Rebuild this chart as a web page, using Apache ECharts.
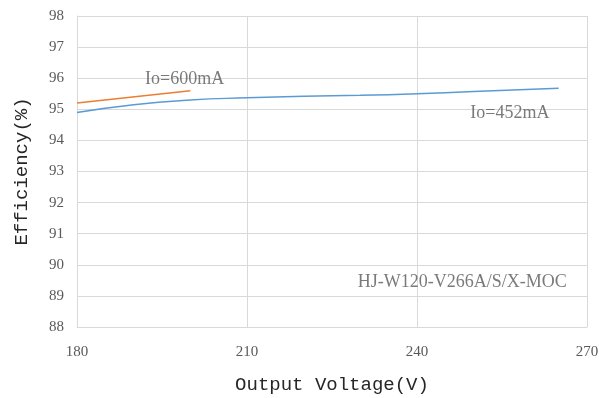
<!DOCTYPE html>
<html><head><meta charset="utf-8">
<script src="https://cdn.jsdelivr.net/npm/echarts@6/dist/echarts.min.js"></script>
<style>html,body{margin:0;padding:0;background:#fff}#c{width:599px;height:398px}</style>
</head><body><div id="c"></div>
<script>
const voltage452 = [180, 190, 200, 210, 220, 230, 240, 250, 265];
const eff452 = [94.9, 95.15, 95.3, 95.37, 95.42, 95.45, 95.5, 95.57, 95.68];
const voltage600 = [180, 200];
const eff600 = [95.2, 95.6];
const annoText = ['Io=600mA', 'Io=452mA', 'HJ-W120-V266A/S/X-MOC'];
const annoX = [199, 256.4, 248];
const annoY = [95.95, 94.88, 89.45];

const chart = echarts.init(document.getElementById('c'));
const txt = '#595959';
const serif = "'Liberation Serif', serif";
const mono = "'Liberation Mono', monospace";
chart.setOption({
  animation: false,
  grid: {left: 77, right: 12, top: 16, bottom: 71, outerBoundsMode: 'none', containLabel: false},
  xAxis: {
    type: 'value', min: 180, max: 270, interval: 30,
    name: 'Output Voltage(V)', nameLocation: 'middle', nameGap: 48,
    nameTextStyle: {fontFamily: mono, fontSize: 19, color: '#262626'},
    axisLine: {lineStyle: {color: '#d9d9d9'}},
    axisTick: {show: false},
    axisLabel: {margin: 18, fontFamily: serif, fontSize: 15, color: txt},
    splitLine: {show: true, lineStyle: {color: '#d9d9d9'}}
  },
  yAxis: {
    type: 'value', min: 88, max: 98, interval: 1,
    name: 'Efficiency(%)', nameLocation: 'middle', nameGap: 46,
    nameTextStyle: {fontFamily: mono, fontSize: 19, color: '#262626'},
    axisLine: {show: true, lineStyle: {color: '#d9d9d9'}},
    axisTick: {show: false},
    axisLabel: {margin: 13, fontFamily: serif, fontSize: 15, color: txt},
    splitLine: {show: true, lineStyle: {color: '#d9d9d9'}}
  },
  series: [
    {
      type: 'line', smooth: true, showSymbol: false,
      data: voltage452.map((v, i) => [v, eff452[i]]),
      lineStyle: {color: '#5B9BD5', width: 1.5}
    },
    {
      type: 'line', showSymbol: false,
      data: voltage600.map((v, i) => [v, eff600[i]]),
      lineStyle: {color: '#ED7D31', width: 1.5}
    },
    {
      type: 'scatter', symbolSize: 0, silent: true,
      data: annoText.map((t, i) => ({value: [annoX[i], annoY[i]], name: t})),
      label: {show: true, position: 'inside', formatter: p => p.name,
        fontFamily: serif, fontSize: 18, color: txt}
    }
  ]
});
</script></body></html>
